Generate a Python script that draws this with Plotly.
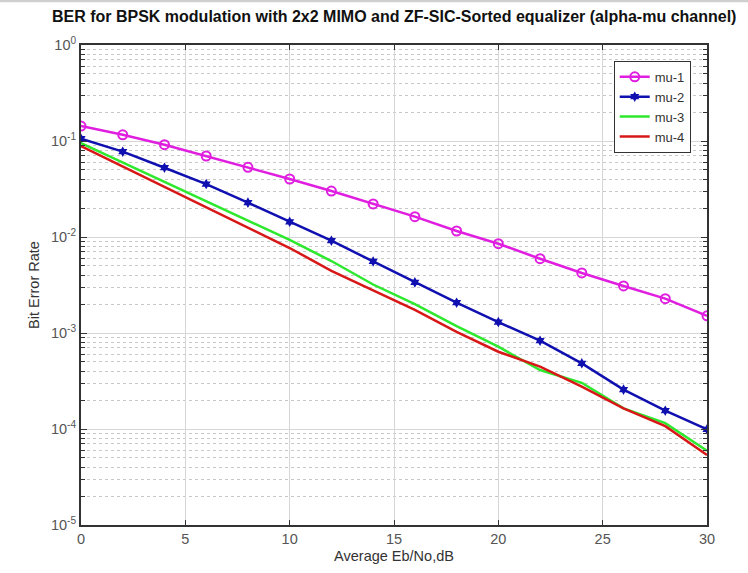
import plotly.graph_objects as go

ebno_db = [0, 2, 4, 6, 8, 10, 12, 14, 16, 18, 20, 22, 24, 26, 28, 30]

ber_mu1 = [0.143, 0.116, 0.0915, 0.0698, 0.0532, 0.0402, 0.0301, 0.0221,
           0.0163, 0.01155, 0.00851, 0.00594, 0.00422, 0.00309, 0.00228, 0.00151]
ber_mu2 = [0.1057, 0.0774, 0.0527, 0.0356, 0.0228, 0.0144, 0.00915, 0.00556,
           0.00337, 0.00207, 0.00130, 0.000832, 0.000483, 0.000257, 0.000155, 0.0000993]
ber_mu3 = [0.0953, 0.0598, 0.0376, 0.0236, 0.01482, 0.00931, 0.00562, 0.00320,
           0.00200, 0.00118, 0.000720, 0.000412, 0.000303, 0.000164, 0.000115, 0.0000594]
ber_mu4 = [0.0887, 0.0544, 0.0333, 0.0204, 0.01253, 0.00768, 0.00445, 0.00276,
           0.00174, 0.00103, 0.000638, 0.000446, 0.000276, 0.000164, 0.000107, 0.0000536]

series_names = ["mu-1", "mu-2", "mu-3", "mu-4"]

y_major = [1e-5, 1e-4, 1e-3, 1e-2, 1e-1, 1]
y_major_text = ["10<sup>-5</sup>", "10<sup>-4</sup>", "10<sup>-3</sup>",
                "10<sup>-2</sup>", "10<sup>-1</sup>", "10<sup>0</sup>"]
y_minor = [m * 10.0 ** e for e in range(-5, 0) for m in range(2, 10)]
x_ticks = [0, 5, 10, 15, 20, 25, 30]

FONT = "Liberation Sans, Arial, sans-serif"

fig = go.Figure()
fig.add_trace(go.Scatter(
    x=ebno_db, y=ber_mu1, name=series_names[0], mode="lines+markers",
    line=dict(color="#e01ee0", width=2.5),
    marker=dict(symbol="circle-open", size=9, color="#e01ee0", line=dict(width=2)),
))
fig.add_trace(go.Scatter(
    x=ebno_db, y=ber_mu2, name=series_names[1], mode="lines+markers",
    line=dict(color="#1010b0", width=2.5),
    marker=dict(symbol="hexagram", size=8, color="#1010b0"),
))
fig.add_trace(go.Scatter(
    x=ebno_db, y=ber_mu3, name=series_names[2], mode="lines",
    line=dict(color="#2ee82e", width=2.5),
))
fig.add_trace(go.Scatter(
    x=ebno_db, y=ber_mu4, name=series_names[3], mode="lines",
    line=dict(color="#d81818", width=2.5),
))

fig.update_layout(
    width=748, height=573,
    margin=dict(l=81, r=41, t=45, b=48),
    paper_bgcolor="white", plot_bgcolor="white",
    font=dict(family=FONT, size=13, color="#444"),
    title=dict(
        text="<b>BER for BPSK modulation with 2x2 MIMO and ZF-SIC-Sorted equalizer (alpha-mu channel)</b>",
        x=0.527, xanchor="center", y=0.972, yanchor="middle",
        font=dict(family=FONT, size=16, color="#111"),
    ),
    showlegend=True,
    legend=dict(
        x=0.851, y=0.967, xanchor="left", yanchor="top",
        bgcolor="white", bordercolor="#333", borderwidth=1,
        font=dict(family=FONT, size=13, color="#333"),
        tracegroupgap=0,
    ),
)

fig.update_xaxes(
    range=[0, 30], tickvals=x_ticks, ticktext=[str(v) for v in x_ticks],
    showline=True, linecolor="#333", linewidth=2, mirror="ticks",
    ticks="inside", ticklen=5, tickcolor="#333",
    showgrid=True, gridcolor="#d6d6d6", gridwidth=1,
    zeroline=False,
    title=dict(text="Average Eb/No,dB", font=dict(family=FONT, size=14.5, color="#333"), standoff=4),
    tickfont=dict(family=FONT, size=14.5, color="#555"),
)
fig.update_yaxes(
    type="log", range=[-5, 0],
    tickvals=y_major, ticktext=y_major_text,
    showline=True, linecolor="#333", linewidth=2, mirror="ticks",
    ticks="inside", ticklen=6, tickcolor="#333",
    showgrid=True, gridcolor="#d6d6d6", gridwidth=1,
    minor=dict(tickmode="array", tickvals=y_minor, ticks="inside", ticklen=4,
               tickcolor="#333", showgrid=True, gridcolor="#c8c8c8",
               griddash="dot", gridwidth=1),
    zeroline=False,
    title=dict(text="Bit Error Rate", font=dict(family=FONT, size=14.5, color="#333"), standoff=8),
    tickfont=dict(family=FONT, size=14.5, color="#555"),
)

fig.add_shape(type="rect", xref="paper", yref="paper", x0=-0.2, x1=1.2, y0=1.089, y1=1.0938,
              line=dict(width=0), fillcolor="#cfcfcf", layer="above")

fig.write_html("out.html")
